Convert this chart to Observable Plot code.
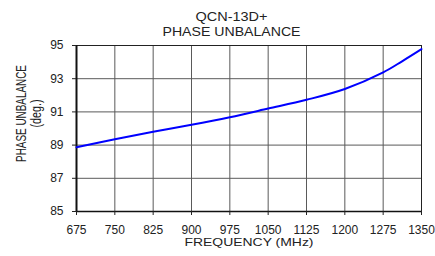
<!DOCTYPE html>
<html><head><meta charset="utf-8">
<script src="https://cdn.jsdelivr.net/npm/d3@7"></script>
<script src="https://cdn.jsdelivr.net/npm/@observablehq/plot@0.6"></script>
<style>body{margin:0;background:#fff;} svg{font-family:"Liberation Sans",Arial,sans-serif;}</style>
</head><body><div id="chart"></div>
<script>
const freq = [675, 750, 825, 900, 975, 1050, 1125, 1200, 1275, 1312, 1350];
const unbalance = [88.87, 89.35, 89.8, 90.22, 90.68, 91.2, 91.73, 92.38, 93.38, 94.05, 94.78];
const xTicks = [675, 750, 825, 900, 975, 1050, 1125, 1200, 1275, 1350];
const yTicks = [85, 87, 89, 91, 93, 95];
const titleLines = ["QCN-13D+", "PHASE UNBALANCE"];
const xLabel = "FREQUENCY (MHz)";
const yLabelLines = ["PHASE UNBALANCE", "(deg.)"];
const data = freq.map((f, i) => ({f, v: unbalance[i]}));

const chart = Plot.plot({
  width: 435, height: 256,
  marginLeft: 76, marginRight: 14, marginTop: 45, marginBottom: 45,
  style: {fontFamily: "Liberation Sans, Arial, sans-serif", fontSize: "12px", color: "#222", background: "#fff", overflow: "visible"},
  x: {domain: [675, 1350], ticks: xTicks, label: null},
  y: {domain: [85, 95], ticks: yTicks, label: null},
  marks: [
    Plot.gridX(xTicks, {stroke: "#5a5a5a", strokeOpacity: 1, strokeWidth: 1}),
    Plot.gridY(yTicks, {stroke: "#5a5a5a", strokeOpacity: 1, strokeWidth: 1}),
    Plot.frame({stroke: "#222", strokeWidth: 1}),
    Plot.ruleX([675], {stroke: "#111", strokeWidth: 2}),
    Plot.ruleY([85], {stroke: "#111", strokeWidth: 1.5}),
    Plot.axisX(xTicks, {tickSize: 4, tickPadding: 9.5, fontSize: 12, stroke: "#222", tickFormat: d => String(d)}),
    Plot.axisY(yTicks, {tickSize: 4, tickPadding: 9, fontSize: 12, stroke: "#222", tickFormat: d => String(d)}),
    Plot.line(data, {x: "f", y: "v", stroke: "#0000ff", strokeWidth: 2, curve: "catmull-rom"}),
    Plot.text([titleLines[0]], {frameAnchor: "top", lineAnchor: "middle", textAnchor: "middle", dx: -17.5, dy: -28, fontSize: 12, fill: "#222"}),
    Plot.text([titleLines[1]], {frameAnchor: "top", lineAnchor: "middle", textAnchor: "middle", dx: -17.5, dy: -13.7, fontSize: 12, fill: "#222"}),
    Plot.text([xLabel], {frameAnchor: "bottom", lineAnchor: "middle", textAnchor: "middle", dy: 30.5, fontSize: 11, fill: "#222"}),
    Plot.text([yLabelLines[0]], {frameAnchor: "left", lineAnchor: "middle", textAnchor: "middle", dx: -55, dy: -15, rotate: -90, fontSize: 14, fill: "#222"}),
    Plot.text([yLabelLines[1]], {frameAnchor: "left", lineAnchor: "middle", textAnchor: "middle", dx: -40.3, dy: -15, rotate: -90, fontSize: 14, fill: "#222"})
  ]
});
document.getElementById("chart").appendChild(chart);
// emulate the reference's anisotropic text proportions
const svg = d3.select(chart);
let pu = 0;
svg.selectAll("text").each(function() {
  const t = this.textContent;
  let L = null;
  if (t === "QCN-13D+") L = 72;
  else if (t === "FREQUENCY (MHz)") L = 129;
  else if (t === "(deg.)") L = 28;
  else if (t === "PHASE UNBALANCE") { L = pu === 0 ? 138 : 97; pu++; }
  if (!L) return;
  const tr = this.getAttribute("transform") || "";
  if (tr.includes("rotate")) {
    const nat = this.getComputedTextLength();
    this.setAttribute("transform", tr + ` scale(${L / nat},1)`);
  } else {
    this.setAttribute("textLength", L);
    this.setAttribute("lengthAdjust", "spacingAndGlyphs");
  }
});
</script></body></html>
